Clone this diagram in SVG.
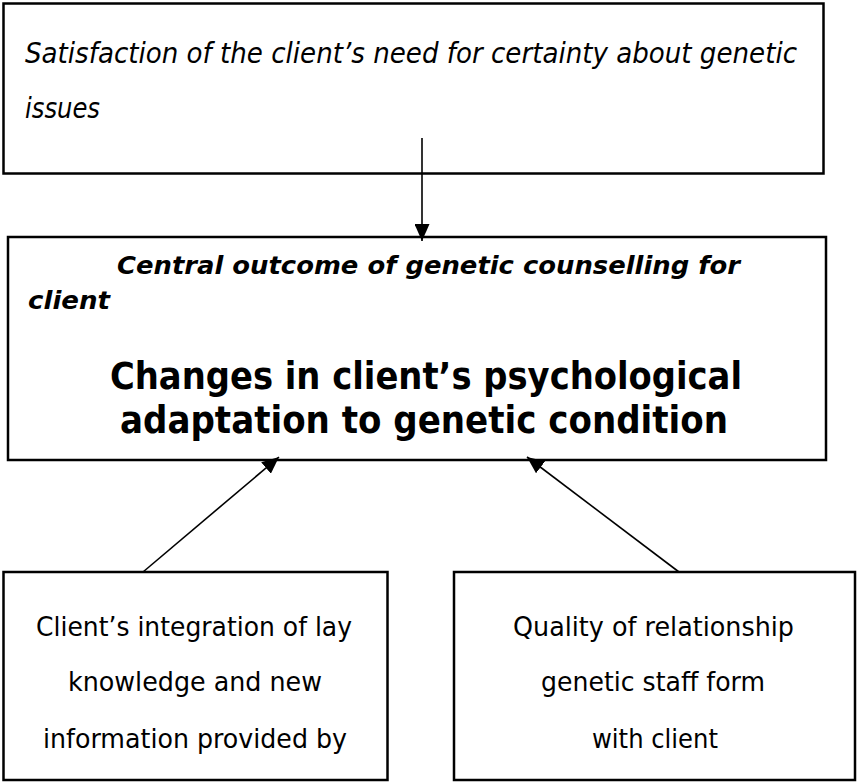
<svg xmlns="http://www.w3.org/2000/svg" width="857" height="783" viewBox="0 0 857 783">
<defs>
<style>
.box{fill:#fff;stroke:#000;stroke-width:2.5}
.t{font-family:"DejaVu Sans","Liberation Sans",sans-serif;fill:#000}
.it{font-style:italic;font-size:28px}
.bi{font-style:italic;font-weight:bold;font-size:25px}
.big{font-weight:bold;font-size:37px}
.sm{font-size:27px}
.conn{stroke:#000;stroke-width:1.6;fill:none}
</style>
<marker id="ah" viewBox="0 0 17 15" refX="17" refY="7.5" markerWidth="17" markerHeight="15" markerUnits="userSpaceOnUse" orient="auto">
<path d="M0,0 L17,7.5 L0,15 Z" fill="#000"/>
</marker>
</defs>
<rect width="857" height="783" fill="#fff"/>
<g id="satisfaction">
<rect class="box" x="3.5" y="3.5" width="820" height="170"/>
<text class="t it" x="25" y="63" textLength="772" lengthAdjust="spacingAndGlyphs">Satisfaction of the client’s need for certainty about genetic</text>
<text class="t it" x="25" y="118" textLength="75" lengthAdjust="spacingAndGlyphs">issues</text>
</g>
<g id="central">
<rect class="box" x="8" y="237" width="818" height="223"/>
<text class="t bi" x="117" y="274" textLength="623" lengthAdjust="spacingAndGlyphs">Central outcome of genetic counselling for</text>
<text class="t bi" x="28" y="309" textLength="82" lengthAdjust="spacingAndGlyphs">client</text>
<text class="t big" x="110" y="389" textLength="632" lengthAdjust="spacingAndGlyphs">Changes in client’s psychological</text>
<text class="t big" x="120" y="433" textLength="608" lengthAdjust="spacingAndGlyphs">adaptation to genetic condition</text>
</g>
<g id="integration">
<rect class="box" x="3.5" y="572" width="384" height="208"/>
<text class="t sm" x="36" y="636" textLength="316" lengthAdjust="spacingAndGlyphs">Client’s integration of lay</text>
<text class="t sm" x="68" y="691" textLength="254" lengthAdjust="spacingAndGlyphs">knowledge and new</text>
<text class="t sm" x="43" y="748" textLength="304" lengthAdjust="spacingAndGlyphs">information provided by</text>
</g>
<g id="relationship">
<rect class="box" x="454" y="572" width="401" height="208"/>
<text class="t sm" x="513" y="636" textLength="281" lengthAdjust="spacingAndGlyphs">Quality of relationship</text>
<text class="t sm" x="541" y="691" textLength="224" lengthAdjust="spacingAndGlyphs">genetic staff form</text>
<text class="t sm" x="592" y="748" textLength="126" lengthAdjust="spacingAndGlyphs">with client</text>
</g>
<g id="connectors">
<line class="conn" x1="422" y1="138" x2="422" y2="241" marker-end="url(#ah)"/>
<line class="conn" x1="143" y1="572" x2="279" y2="457" marker-end="url(#ah)"/>
<line class="conn" x1="679" y1="572" x2="527" y2="457" marker-end="url(#ah)"/>
</g>
</svg>
